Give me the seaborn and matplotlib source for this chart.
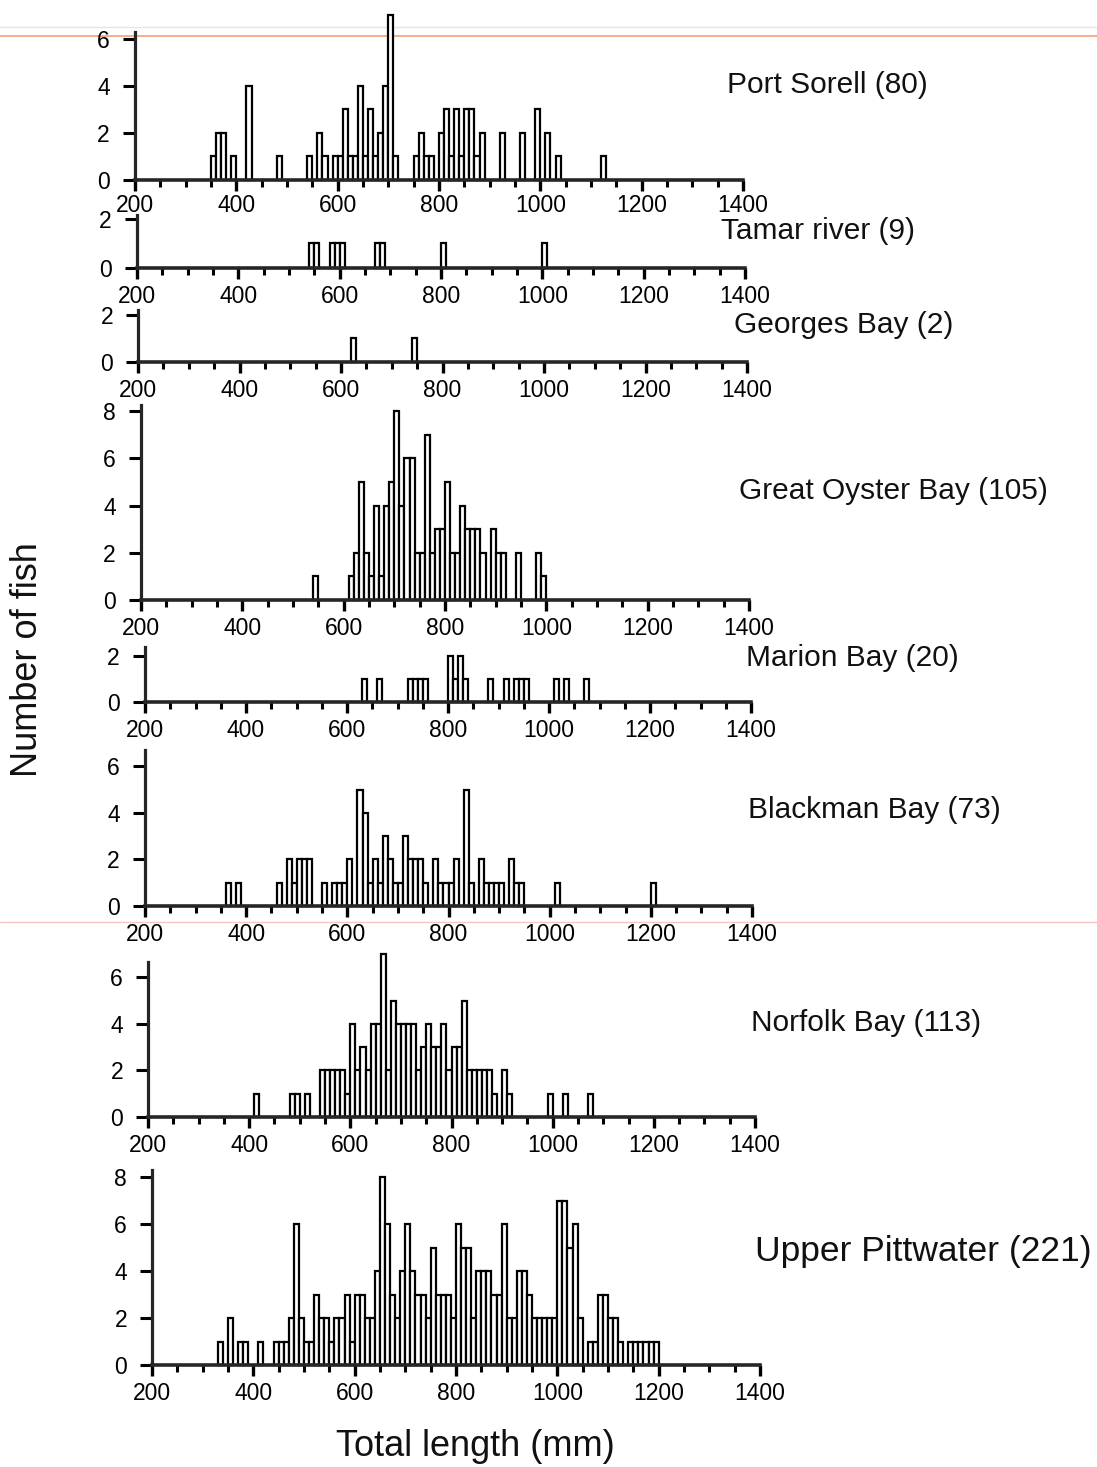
import numpy as np
import pandas as pd
import matplotlib
matplotlib.use("Agg")
import matplotlib.pyplot as plt
from matplotlib.lines import Line2D
from matplotlib.ticker import MultipleLocator
import seaborn as sns

# Length-frequency counts per 10 mm class (class lower bound in mm -> number of fish)
port_sorell_len = [350, 360, 370, 390, 420, 480, 540, 560, 570, 590, 600, 610, 620, 630, 640, 650,
                   660, 670, 680, 690, 700, 710, 750, 760, 770, 780, 800, 810, 820, 830, 840, 850,
                   860, 870, 880, 920, 960, 990, 1010, 1030, 1120]
port_sorell_n = [1, 2, 2, 1, 4, 1, 1, 2, 1, 1, 1, 3, 1, 1, 4, 1,
                 3, 1, 2, 4, 7, 1, 1, 2, 1, 1, 2, 3, 1, 3, 1, 3,
                 3, 1, 2, 2, 2, 3, 2, 1, 1]

tamar_len = [540, 550, 580, 590, 600, 670, 680, 800, 1000]
tamar_n = [1, 1, 1, 1, 1, 1, 1, 1, 1]

georges_len = [620, 740]
georges_n = [1, 1]

oyster_len = [540, 610, 620, 630, 640, 650, 660, 670, 680, 690, 700, 710, 720, 730, 740, 750,
              760, 770, 780, 790, 800, 810, 820, 830, 840, 850, 860, 870, 890, 900, 910, 940,
              980, 990]
oyster_n = [1, 1, 2, 5, 2, 1, 4, 1, 4, 5, 8, 4, 6, 6, 2, 2,
            7, 2, 3, 3, 5, 2, 2, 4, 3, 3, 3, 2, 3, 2, 2, 2,
            2, 1]

marion_len = [630, 660, 720, 730, 740, 750, 800, 810, 820, 830, 880, 910, 930, 940, 950,
              1010, 1030, 1070]
marion_n = [1, 1, 1, 1, 1, 1, 2, 1, 2, 1, 1, 1, 1, 1, 1, 1, 1, 1]

blackman_len = [360, 380, 460, 480, 490, 500, 510, 520, 550, 570, 580, 590, 600, 620, 630, 640,
                650, 660, 670, 680, 690, 700, 710, 720, 730, 740, 750, 770, 780, 790, 800, 810,
                830, 840, 860, 870, 880, 890, 900, 920, 930, 940, 1010, 1200]
blackman_n = [1, 1, 1, 2, 1, 2, 2, 2, 1, 1, 1, 1, 2, 5, 4, 1,
              2, 1, 3, 2, 1, 1, 3, 2, 2, 2, 1, 2, 1, 1, 1, 2,
              5, 1, 2, 1, 1, 1, 1, 2, 1, 1, 1, 1]

norfolk_len = [410, 480, 490, 510, 540, 550, 560, 570, 580, 590, 600, 610, 620, 630, 640, 650,
               660, 670, 680, 690, 700, 710, 720, 730, 740, 750, 760, 770, 780, 790, 800, 810,
               820, 830, 840, 850, 860, 870, 880, 900, 910, 990, 1020, 1070]
norfolk_n = [1, 1, 1, 1, 2, 2, 2, 2, 2, 1, 4, 2, 3, 2, 4, 4,
             7, 2, 5, 4, 4, 4, 4, 2, 3, 4, 3, 3, 4, 2, 3, 3,
             5, 2, 2, 2, 2, 2, 1, 2, 1, 1, 1, 1]

pittwater_len = [330, 350, 370, 380, 410, 440, 450, 460, 470, 480, 490, 500, 510, 520, 530, 540,
                 550, 560, 570, 580, 590, 600, 610, 620, 630, 640, 650, 660, 670, 680, 690, 700,
                 710, 720, 730, 740, 750, 760, 770, 780, 790, 800, 810, 820, 830, 840, 850, 860,
                 870, 880, 890, 900, 910, 920, 930, 940, 950, 960, 970, 980, 990, 1000, 1010, 1020,
                 1030, 1040, 1060, 1070, 1080, 1090, 1100, 1110, 1120, 1140, 1150, 1160, 1170, 1180,
                 1190]
pittwater_n = [1, 2, 1, 1, 1, 1, 1, 1, 2, 6, 2, 1, 1, 3, 2, 2,
               1, 2, 2, 3, 1, 3, 3, 2, 2, 4, 8, 6, 3, 2, 4, 6,
               4, 3, 3, 2, 5, 3, 3, 3, 2, 6, 5, 5, 2, 4, 4, 4,
               3, 3, 6, 2, 2, 4, 4, 3, 2, 2, 2, 2, 2, 7, 7, 5,
               6, 2, 1, 1, 3, 3, 2, 2, 1, 1, 1, 1, 1, 1,
               1]

site_names = ["Port Sorell (80)", "Tamar river (9)", "Georges Bay (2)", "Great Oyster Bay (105)",
              "Marion Bay (20)", "Blackman Bay (73)", "Norfolk Bay (113)", "Upper Pittwater (221)"]
site_len = [port_sorell_len, tamar_len, georges_len, oyster_len,
            marion_len, blackman_len, norfolk_len, pittwater_len]
site_n = [port_sorell_n, tamar_n, georges_n, oyster_n,
          marion_n, blackman_n, norfolk_n, pittwater_n]
x_ticks = [200, 400, 600, 800, 1000, 1200, 1400]

# Panel geometry in pixels: baseline y, pixels per fish, left x, right x,
# y-limit, top of the y spine, y ticks, label x, label y, label size, x tick label pad
W, H = 1097, 1467
panels = [
    dict(base=180, unit=23.5, left=135, right=743, ytop=7.3, spine=6.3, yt=[0, 2, 4, 6], lx=727, ly=85, fs=21.5, xpad=2),
    dict(base=268, unit=24.5, left=137, right=745, ytop=2.3, spine=2.15, yt=[0, 2], lx=721, ly=231, fs=21.5, xpad=4),
    dict(base=362, unit=23.5, left=138, right=747, ytop=2.3, spine=2.2, yt=[0, 2], lx=734, ly=325, fs=21.5, xpad=4),
    dict(base=600, unit=23.6, left=141, right=749, ytop=8.4, spine=8.25, yt=[0, 2, 4, 6, 8], lx=739, ly=491, fs=21.5, xpad=4),
    dict(base=702, unit=23.0, left=145, right=751, ytop=2.5, spine=2.4, yt=[0, 2], lx=746, ly=658, fs=21.5, xpad=4),
    dict(base=906, unit=23.3, left=145, right=752, ytop=6.8, spine=6.7, yt=[0, 2, 4, 6], lx=748, ly=810, fs=21.5, xpad=4),
    dict(base=1117, unit=23.3, left=148, right=755, ytop=7.3, spine=6.65, yt=[0, 2, 4, 6], lx=751, ly=1023, fs=21.5, xpad=4),
    dict(base=1365, unit=23.5, left=152, right=760, ytop=8.5, spine=8.3, yt=[0, 2, 4, 6, 8], lx=755, ly=1251, fs=25.5, xpad=4),
]

sns.set_theme(style="ticks")
plt.rcParams["font.family"] = ["Liberation Sans", "DejaVu Sans"]

fig = plt.figure(figsize=(W / 100, H / 100), dpi=100)
fig.patch.set_facecolor("white")

for name, lens, ns, p in zip(site_names, site_len, site_n, panels):
    h_px = p["ytop"] * p["unit"]
    ax = fig.add_axes([p["left"] / W, 1 - p["base"] / H, (p["right"] - p["left"]) / W, h_px / H])
    df = pd.DataFrame({"length": np.array(lens, dtype=float) + 5.0,
                       "fish": np.array(ns, dtype=float)})
    sns.histplot(data=df, x="length", weights="fish", binwidth=10, binrange=(300, 1220), ax=ax,
                 facecolor="white", edgecolor="black", linewidth=1.6, alpha=1)
    for patch in list(ax.patches):
        if patch.get_height() == 0:
            patch.remove()
        else:
            patch.set_clip_on(False)
    ax.set_xlim(200, 1400)
    ax.set_ylim(0, p["ytop"])
    ax.set_facecolor("none")
    ax.set_xlabel("")
    ax.set_ylabel("")
    ax.spines["top"].set_visible(False)
    ax.spines["right"].set_visible(False)
    ax.spines["left"].set_linewidth(2.3)
    ax.spines["bottom"].set_linewidth(2.6)
    ax.spines["left"].set_bounds(0, p["spine"])
    ax.spines["left"].set_zorder(5)
    ax.spines["bottom"].set_zorder(5)
    ax.set_xticks(x_ticks)
    ax.set_xticklabels([str(t) for t in x_ticks])
    ax.xaxis.set_minor_locator(MultipleLocator(50))
    ax.set_yticks(p["yt"])
    ax.set_yticklabels([str(t) for t in p["yt"]])
    ax.tick_params(axis="x", which="major", length=8, width=2.4, labelsize=16.5, pad=p["xpad"], colors="black")
    ax.tick_params(axis="x", which="minor", length=5, width=2.2, colors="black")
    ax.tick_params(axis="y", which="major", length=9, width=2.2, labelsize=16.5, pad=9, colors="black")
    ax.grid(False)
    fig.text(p["lx"] / W, 1 - p["ly"] / H, name, fontsize=p["fs"], ha="left", va="center", color="#111111")

fig.text(475 / W, 1 - 1447 / H, "Total length (mm)", fontsize=26, ha="center", va="center", color="#111111")
fig.text(28 / W, 1 - 660 / H, "Number of fish", fontsize=26, ha="center", va="center",
         rotation=90, color="#111111")

# Faint ruled lines of the page
fig.add_artist(Line2D([0, 1], [1 - 27 / H, 1 - 27 / H], transform=fig.transFigure,
                      color="#ece4da", linewidth=1.0, zorder=0))
fig.add_artist(Line2D([0, 1], [1 - 36 / H, 1 - 36 / H], transform=fig.transFigure,
                      color="#f2a173", linewidth=1.2, zorder=0))
fig.add_artist(Line2D([0, 1], [1 - 922 / H, 1 - 922 / H], transform=fig.transFigure,
                      color="#f5c4c4", linewidth=1.0, zorder=0))

fig.savefig("out.png", dpi=100, facecolor="white")
